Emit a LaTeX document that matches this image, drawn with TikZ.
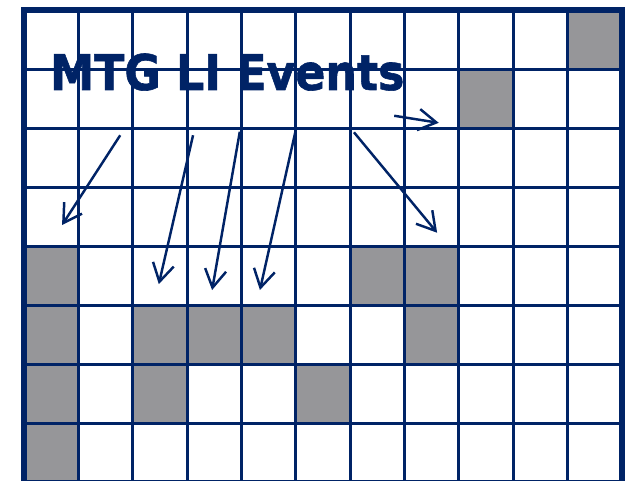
\documentclass[tikz,border=0pt]{standalone}
\usepackage{fontspec}
\usetikzlibrary{arrows.meta}
\newfontfamily\titlefont[FakeBold=1.2]{DejaVu Sans}
\definecolor{navy}{RGB}{0,35,102}
\definecolor{cellgray}{RGB}{150,150,153}

\begin{document}
\begin{tikzpicture}[
    x=2.1744cm, y=-2.3632cm,
    cell/.style={fill=cellgray},
    grid/.style={draw=navy, line width=3.3pt},
    frame/.style={draw=navy, line width=6.8pt},
    arrow/.style={-{Straight Barb[length=.72cm, width=.85cm]}, draw=navy, line width=2.8pt},
    title/.style={font=\titlefont\bfseries\fontsize{56}{60}\selectfont, text=navy, inner sep=0pt}
  ]
    \useasboundingbox (-.4415,-.1693) rectangle (11.056,7.972);
    \foreach \c/\r in {10/0,8/1,0/4,6/4,7/4,0/5,2/5,3/5,4/5,7/5,0/6,2/6,5/6,0/7} {
      \fill[cell] (\c,\r) rectangle ++(1,1);
    }
    \foreach \c in {1,...,10} {
      \draw[grid] (\c,0) -- (\c,8);
    }
    \foreach \r in {1,...,7} {
      \draw[grid] (0,\r) -- (11,\r);
    }
    \draw[frame] (0,0) rectangle (11,8);

    \node[title, anchor=base west, xscale=.9, transform shape] (title) at (.478,1.354) {MTG LI Events};

    \foreach \n/\sx/\sy/\ex/\ey in {a/1.77/2.12/.70/3.64, b/3.11/2.12/2.48/4.64,
        c/3.97/2.06/3.46/4.74, d/4.99/2.07/4.34/4.74, e/6.07/2.07/7.60/3.77,
        f/6.81/1.79/7.63/1.91} {
      \coordinate (\n-start) at (\sx,\sy);
      \coordinate (\n-end) at (\ex,\ey);
      \draw[arrow] (\n-start) -- (\n-end);
    }
  \end{tikzpicture}
\end{document}
